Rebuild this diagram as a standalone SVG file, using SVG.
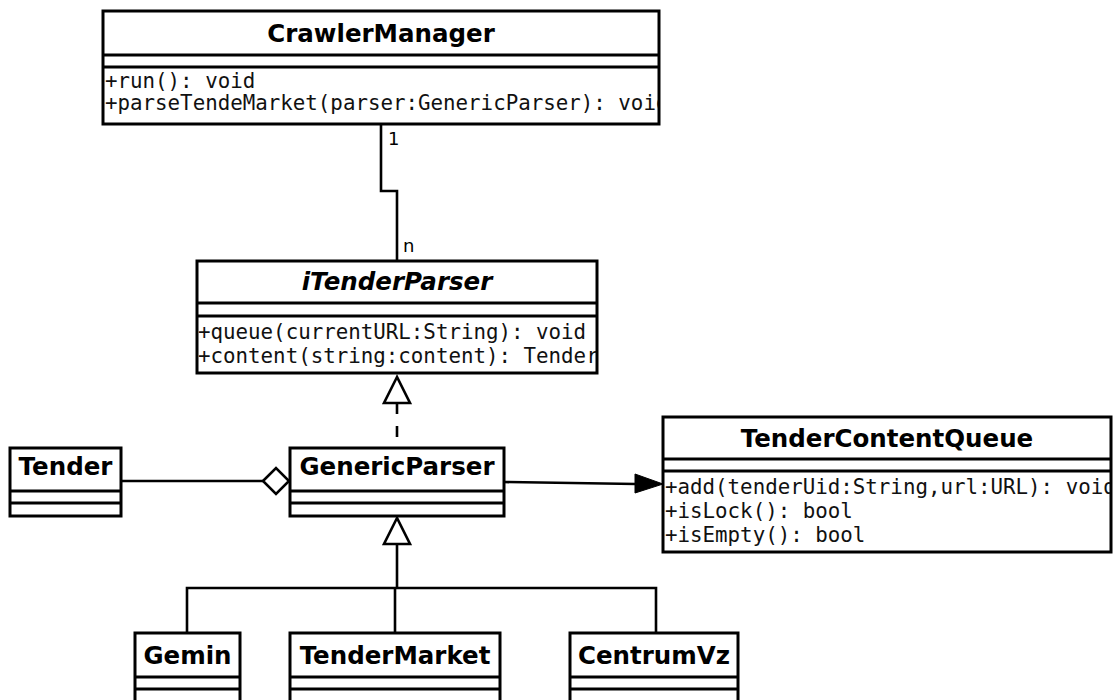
<svg xmlns="http://www.w3.org/2000/svg" width="1120" height="700" viewBox="0 0 1120 700">
  <style>
    .box { fill: #ffffff; stroke: #000000; stroke-width: 3; }
    .div { stroke: #000000; stroke-width: 3; }
    .title { font-family: "DejaVu Sans", "Liberation Sans", sans-serif; font-weight: bold; font-size: 24.5px; text-anchor: middle; fill: #000000; }
    .abstract { font-style: italic; }
    .op { font-family: "DejaVu Sans Mono", "Liberation Mono", monospace; font-size: 20.8px; fill: #111111; }
    .mult { font-family: "DejaVu Sans", "Liberation Sans", sans-serif; font-size: 18px; fill: #000000; }
    .edge { fill: none; stroke: #000000; stroke-width: 2.6; }
    .dashed { stroke-dasharray: 11 12; }
  </style>
  <defs>
    <clipPath id="clipCrawler"><rect x="104" y="68" width="554" height="55"/></clipPath>
    <clipPath id="clipParserIf"><rect x="198" y="317" width="398" height="55"/></clipPath>
    <clipPath id="clipQueue"><rect x="664" y="472" width="446" height="79"/></clipPath>
  </defs>

  <rect width="1120" height="700" fill="#ffffff"/>

  <!-- connectors -->
  <g id="connectors">
    <!-- CrawlerManager 1 — n iTenderParser -->
    <polyline class="edge" points="381,124 381,191 397,191 397,261"/>
    <text class="mult" x="388" y="145">1</text>
    <text class="mult" x="403" y="252">n</text>

    <!-- GenericParser realizes iTenderParser -->
    <line class="edge dashed" x1="397" y1="403" x2="397" y2="448"/>
    <polygon points="397,377 384,403 410,403" fill="#ffffff" stroke="#000000" stroke-width="2.6"/>

    <!-- Tender aggregated by GenericParser -->
    <line class="edge" x1="121" y1="481" x2="263" y2="481"/>
    <polygon points="263,481 276,468 289,481 276,494" fill="#ffffff" stroke="#000000" stroke-width="2.6"/>

    <!-- GenericParser navigates to TenderContentQueue -->
    <line class="edge" x1="504" y1="482" x2="636" y2="484"/>
    <polygon points="663,484 635,474 635,493" fill="#000000" stroke="#000000" stroke-width="1"/>

    <!-- subclasses generalize GenericParser -->
    <polyline class="edge" points="397,544 397,588"/>
    <polyline class="edge" points="187,633 187,588 656,588 656,633"/>
    <line class="edge" x1="395" y1="588" x2="395" y2="633"/>
    <polygon points="397,518 384,544 410,544" fill="#ffffff" stroke="#000000" stroke-width="2.6"/>
  </g>

  <!-- CrawlerManager -->
  <g id="CrawlerManager">
    <rect class="box" x="103" y="11" width="556" height="113"/>
    <line class="div" x1="103" y1="55" x2="659" y2="55"/>
    <line class="div" x1="103" y1="67" x2="659" y2="67"/>
    <text class="title" x="381" y="42">CrawlerManager</text>
    <g clip-path="url(#clipCrawler)">
      <text class="op" x="105" y="88">+run(): void</text>
      <text class="op" x="105" y="110">+parseTendeMarket(parser:GenericParser): void</text>
    </g>
  </g>

  <!-- iTenderParser -->
  <g id="iTenderParser">
    <rect class="box" x="197" y="261" width="400" height="112"/>
    <line class="div" x1="197" y1="303" x2="597" y2="303"/>
    <line class="div" x1="197" y1="316" x2="597" y2="316"/>
    <text class="title abstract" x="397" y="290">iTenderParser</text>
    <g clip-path="url(#clipParserIf)">
      <text class="op" x="198" y="339">+queue(currentURL:String): void</text>
      <text class="op" x="198" y="363">+content(string:content): Tender</text>
    </g>
  </g>

  <!-- Tender -->
  <g id="Tender">
    <rect class="box" x="10" y="448" width="111" height="68"/>
    <line class="div" x1="10" y1="491" x2="121" y2="491"/>
    <line class="div" x1="10" y1="503" x2="121" y2="503"/>
    <text class="title" x="65.5" y="475">Tender</text>
  </g>

  <!-- GenericParser -->
  <g id="GenericParser">
    <rect class="box" x="290" y="448" width="214" height="68"/>
    <line class="div" x1="290" y1="491" x2="504" y2="491"/>
    <line class="div" x1="290" y1="503" x2="504" y2="503"/>
    <text class="title" x="397" y="475">GenericParser</text>
  </g>

  <!-- TenderContentQueue -->
  <g id="TenderContentQueue">
    <rect class="box" x="663" y="417" width="448" height="135"/>
    <line class="div" x1="663" y1="459" x2="1111" y2="459"/>
    <line class="div" x1="663" y1="471" x2="1111" y2="471"/>
    <text class="title" x="887" y="447">TenderContentQueue</text>
    <g clip-path="url(#clipQueue)">
      <text class="op" x="665" y="494">+add(tenderUid:String,url:URL): void</text>
      <text class="op" x="665" y="518">+isLock(): bool</text>
      <text class="op" x="665" y="542">+isEmpty(): bool</text>
    </g>
  </g>

  <!-- Gemin -->
  <g id="Gemin">
    <rect class="box" x="135" y="633" width="105" height="90"/>
    <line class="div" x1="135" y1="677" x2="240" y2="677"/>
    <line class="div" x1="135" y1="689" x2="240" y2="689"/>
    <text class="title" x="187.5" y="664">Gemin</text>
  </g>

  <!-- TenderMarket -->
  <g id="TenderMarket">
    <rect class="box" x="290" y="633" width="210" height="90"/>
    <line class="div" x1="290" y1="677" x2="500" y2="677"/>
    <line class="div" x1="290" y1="689" x2="500" y2="689"/>
    <text class="title" x="395" y="664">TenderMarket</text>
  </g>

  <!-- CentrumVz -->
  <g id="CentrumVz">
    <rect class="box" x="570" y="633" width="168" height="90"/>
    <line class="div" x1="570" y1="677" x2="738" y2="677"/>
    <line class="div" x1="570" y1="689" x2="738" y2="689"/>
    <text class="title" x="654" y="664">CentrumVz</text>
  </g>
</svg>
